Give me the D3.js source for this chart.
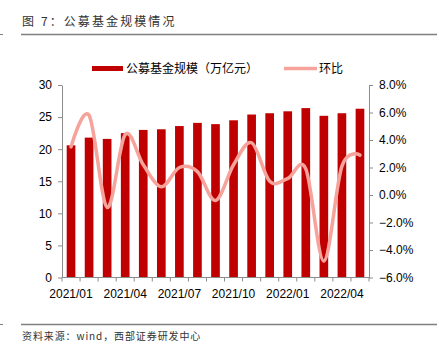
<!DOCTYPE html>
<html>
<head>
<meta charset="utf-8">
<script src="https://cdn.jsdelivr.net/npm/d3@7/dist/d3.min.js"></script>
<style>
  html, body { margin: 0; padding: 0; background: #fff; }
  svg { display: block; }
</style>
</head>
<body>
<svg id="chart" width="439" height="348"></svg>
<script>
const months = ["2021/01","2021/02","2021/03","2021/04","2021/05","2021/06","2021/07","2021/08","2021/09","2021/10","2021/11","2021/12","2022/01","2022/02","2022/03","2022/04","2022/05"];
const fundScale = [20.6, 21.8, 21.6, 22.5, 23.0, 23.1, 23.6, 24.1, 23.9, 24.5, 25.4, 25.6, 25.9, 26.4, 25.2, 25.6, 26.3];
const momChange = [3.5, 5.8, -0.9, 4.4, 2.2, 0.6, 2.0, 1.7, -0.4, 2.2, 3.8, 1.0, 1.2, 1.9, -4.8, 2.1, 2.9];
const shownLabels = ["2021/01","2021/04","2021/07","2021/10","2022/01","2022/04"];
const leftTicks = [0, 5, 10, 15, 20, 25, 30];
const rightTicks = [-6, -4, -2, 0, 2, 4, 6, 8];
const title = "图 7：公募基金规模情况";
const source = "资料来源：wind，西部证券研发中心";
const seriesNames = ["公募基金规模（万亿元）", "环比"];

const svg = d3.select("#chart");
const L = 62, R = 369, T = 85, B = 277.5;
const latin = "'Liberation Sans', Arial, sans-serif";
const cjk = "'Noto Sans CJK SC', sans-serif";
const barColor = "#c00000", lineColor = "#f5a39b", axisColor = "#8c8c8c";

// header / footer
svg.append("text").attr("x", 22).attr("y", 25.5).attr("font-family", cjk).attr("font-size", 12)
  .attr("letter-spacing", 2.1).attr("fill", "#333").text(title);
svg.append("line").attr("x1", 21).attr("x2", 437).attr("y1", 34.5).attr("y2", 34.5).attr("stroke", "#7f7f7f").attr("stroke-width", 1.5);
svg.append("line").attr("x1", 0).attr("x2", 3).attr("y1", 34.5).attr("y2", 34.5).attr("stroke", "#7f7f7f").attr("stroke-width", 1);
svg.append("line").attr("x1", 21).attr("x2", 437).attr("y1", 324.5).attr("y2", 324.5).attr("stroke", "#7f7f7f").attr("stroke-width", 1.5);
svg.append("line").attr("x1", 0).attr("x2", 3).attr("y1", 324.5).attr("y2", 324.5).attr("stroke", "#7f7f7f").attr("stroke-width", 1);
svg.append("text").attr("x", 22).attr("y", 340).attr("font-family", cjk).attr("font-size", 10)
  .attr("letter-spacing", 0.9).attr("fill", "#333").text(source);

// scales
const x = d3.scaleBand().domain(months).range([L, R]).paddingInner(0.52).paddingOuter(0.26);
const xStep = (R - L) / months.length;
const yL = d3.scaleLinear().domain([0, 30]).range([B, T]);
const yR = d3.scaleLinear().domain([-6, 8]).range([B, T]);

// bars
svg.append("g").selectAll("rect").data(months).join("rect")
  .attr("x", d => x(d)).attr("width", x.bandwidth())
  .attr("y", (d, i) => yL(fundScale[i])).attr("height", (d, i) => B - yL(fundScale[i]))
  .attr("fill", barColor);

// axes
const styleAxis = g => {
  g.select(".domain").attr("stroke", axisColor);
  g.selectAll(".tick line").attr("stroke", axisColor);
  g.selectAll(".tick text").attr("font-family", latin).attr("font-size", 12).attr("fill", "#000");
};
svg.append("g").attr("transform", `translate(${L},0)`)
  .call(d3.axisLeft(yL).tickValues(leftTicks).tickSize(4).tickSizeOuter(0).tickPadding(6).tickFormat(d3.format("d")))
  .call(styleAxis);
svg.append("g").attr("transform", `translate(${R},0)`)
  .call(d3.axisRight(yR).tickValues(rightTicks).tickSize(4).tickSizeOuter(0).tickPadding(6).tickFormat(d => d3.format(".1f")(d) + "%"))
  .call(styleAxis);

// x axis with ticks at band boundaries
const xg = svg.append("g").attr("transform", `translate(0,${B})`);
xg.append("line").attr("x1", L).attr("x2", R).attr("stroke", axisColor);
xg.selectAll("line.tk").data(d3.range(months.length + 1)).join("line").attr("class", "tk")
  .attr("x1", i => L + i * xStep).attr("x2", i => L + i * xStep).attr("y1", 0).attr("y2", 4).attr("stroke", axisColor);
xg.selectAll("text").data(shownLabels).join("text")
  .attr("x", d => x(d) + x.bandwidth() / 2).attr("y", 20.5).attr("text-anchor", "middle")
  .attr("font-family", latin).attr("font-size", 12).attr("fill", "#000").text(d => d);

// line
const lineGen = d3.line().x((d, i) => x(months[i]) + x.bandwidth() / 2).y(d => yR(d)).curve(d3.curveCardinal.tension(0));
svg.append("path").datum(momChange).attr("d", lineGen).attr("fill", "none")
  .attr("stroke", lineColor).attr("stroke-width", 3.5).attr("stroke-linecap", "round");

// legend
svg.append("rect").attr("x", 92).attr("y", 66).attr("width", 31).attr("height", 5).attr("fill", barColor);
svg.append("text").attr("x", 126).attr("y", 73).attr("font-family", cjk).attr("font-size", 12).attr("fill", "#000").text(seriesNames[0]);
svg.append("line").attr("x1", 284).attr("x2", 317).attr("y1", 68.5).attr("y2", 68.5).attr("stroke", lineColor).attr("stroke-width", 3.5);
svg.append("text").attr("x", 319).attr("y", 73).attr("font-family", cjk).attr("font-size", 12).attr("fill", "#000").text(seriesNames[1]);
</script>
</body>
</html>
